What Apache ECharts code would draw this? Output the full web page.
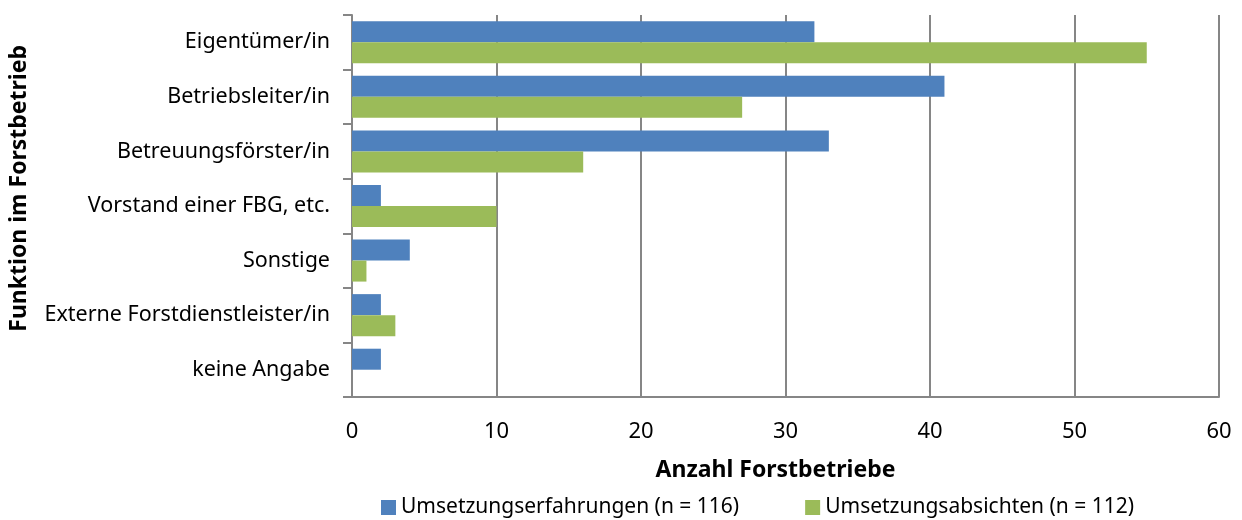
<!DOCTYPE html>
<html>
<head>
<meta charset="utf-8">
<script src="https://cdn.jsdelivr.net/npm/echarts@6/dist/echarts.min.js"></script>
<style>
  html, body { margin: 0; padding: 0; background: #fff; }
  #chart { width: 1242px; height: 520px; }
</style>
</head>
<body>
<div id="chart"></div>
<script>
const categories = [
  'Eigentümer/in',
  'Betriebsleiter/in',
  'Betreuungsförster/in',
  'Vorstand einer FBG, etc.',
  'Sonstige',
  'Externe Forstdienstleister/in',
  'keine Angabe'
];
const erfahrungen = [32, 41, 33, 2, 4, 2, 2];
const absichten = [55, 27, 16, 10, 1, 3, 0];
const seriesNames = ['Umsetzungserfahrungen (n = 116)', 'Umsetzungsabsichten (n = 112)'];

const font = 'Noto Sans';
const chart = echarts.init(document.getElementById('chart'));

const option = {
  animation: false,
  textStyle: { fontFamily: font },
  grid: { left: 352, right: 23, top: 15, bottom: 123, containLabel: false },
  legend: {
    top: 492,
    left: 376,
    itemWidth: 15,
    itemHeight: 15,
    itemGap: 66,
    icon: 'rect',
    textStyle: { fontFamily: font, fontSize: 21, color: '#000' },
    data: seriesNames
  },
  xAxis: {
    type: 'value',
    min: 0,
    max: 60,
    interval: 10,
    name: 'Anzahl Forstbetriebe',
    nameLocation: 'middle',
    nameGap: 62,
    nameTextStyle: { fontFamily: font, fontSize: 23, fontWeight: 'bold', color: '#000', padding: [0, 20, 0, 0] },
    axisLine: { show: true, lineStyle: { color: '#868686', width: 2 } },
    axisTick: { show: false },
    axisLabel: { fontSize: 22, color: '#000', margin: 24 },
    splitLine: { show: true, lineStyle: { color: '#868686', width: 2 } }
  },
  yAxis: {
    type: 'category',
    inverse: true,
    data: categories,
    axisLine: { show: true, lineStyle: { color: '#868686', width: 2 } },
    axisTick: { show: true, length: 9, lineStyle: { color: '#868686', width: 2 } },
    axisLabel: { fontSize: 21.5, color: '#000', margin: 22 }
  },
  graphic: [{
    type: 'text',
    left: 8,
    top: 45,
    rotation: Math.PI / 2,
    style: {
      text: 'Funktion im Forstbetrieb',
      font: 'bold 23px "' + font + '"',
      fill: '#000'
    }
  }],
  series: [
    {
      name: seriesNames[0],
      type: 'bar',
      data: erfahrungen,
      barGap: '0%',
      barCategoryGap: '23%',
      itemStyle: { color: '#4F81BD' }
    },
    {
      name: seriesNames[1],
      type: 'bar',
      data: absichten,
      barGap: '0%',
      barCategoryGap: '23%',
      itemStyle: { color: '#9BBB59' }
    }
  ]
};

chart.setOption(option);
</script>
</body>
</html>
